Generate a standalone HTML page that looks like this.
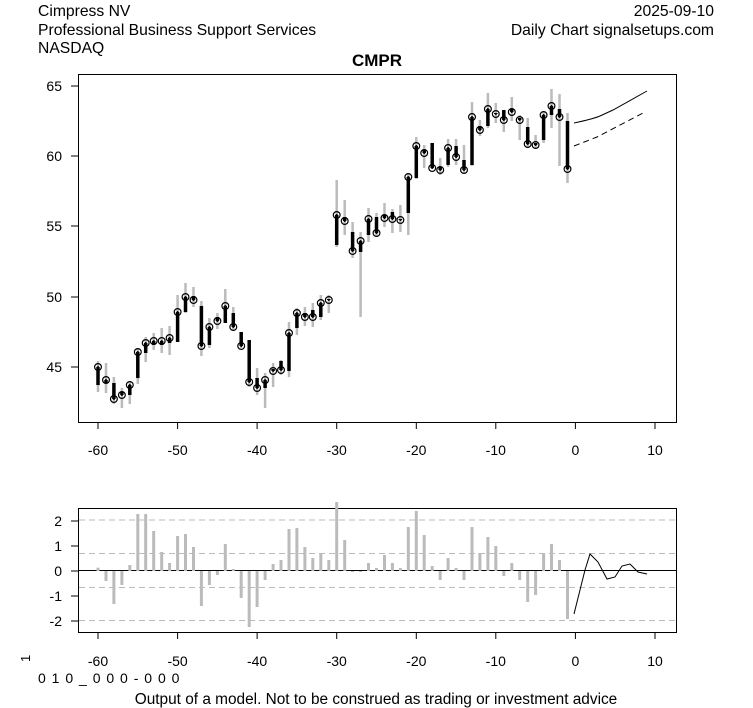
<!DOCTYPE html>
<html><head><meta charset="utf-8"><style>
body{margin:0;background:#fff;}
svg{display:block;font-family:"Liberation Sans",Arial,sans-serif;}
</style></head><body>
<svg id="s" width="753" height="708" xmlns="http://www.w3.org/2000/svg">
<rect width="753" height="708" fill="#fff"/>
<text x="38" y="16" font-size="15.7">Cimpress NV</text>
<text x="38" y="35" font-size="15.7">Professional Business Support Services</text>
<text x="38" y="53" font-size="15.7">NASDAQ</text>
<text x="714" y="16" font-size="15.7" text-anchor="end">2025-09-10</text>
<text x="714" y="35" font-size="15.7" text-anchor="end">Daily Chart signalsetups.com</text>
<text x="377" y="66" font-size="17" font-weight="bold" text-anchor="middle">CMPR</text>
<rect x="78.5" y="74.5" width="598" height="348" fill="none" stroke="#000"/>
<rect x="78.5" y="508.5" width="598" height="124" fill="none" stroke="#000"/>
<g id="g"></g>
<text x="30" y="662" font-size="13" transform="rotate(-90 30 662)">1</text>
<text x="38" y="683" font-size="14" letter-spacing="1">0 1 0 _ 0 0 0 - 0 0 0</text>
<text x="376" y="704" font-size="15.4" text-anchor="middle">Output of a model. Not to be construed as trading or investment advice</text>
</svg>
<script>
var g=document.getElementById('g'),h='';
function X(d){return 98+(d+60)*7.957;}
for(var d=-60;d<=10;d+=10){var x=X(d).toFixed(1);
h+='<line x1="'+x+'" y1="422" x2="'+x+'" y2="429" stroke="#000"/><text x="'+x+'" y="455" font-size="14" text-anchor="middle">'+d+'</text>';
h+='<line x1="'+x+'" y1="632" x2="'+x+'" y2="639" stroke="#000"/><text x="'+x+'" y="666" font-size="14" text-anchor="middle">'+d+'</text>';}
[[65,86],[60,156],[55,226],[50,297],[45,367]].forEach(function(t){h+='<line x1="71" y1="'+t[1]+'" x2="78" y2="'+t[1]+'" stroke="#000"/><text x="62" y="'+(t[1]+5)+'" font-size="14" text-anchor="end">'+t[0]+'</text>';});
[[2,521],[1,546],[0,571],[-1,596],[-2,621]].forEach(function(t){h+='<line x1="71" y1="'+t[1]+'" x2="78" y2="'+t[1]+'" stroke="#000"/><text x="62" y="'+(t[1]+5)+'" font-size="14" text-anchor="end">'+t[0]+'</text>';});
[520,553.5,587.5,620.5].forEach(function(y){h+='<line x1="79" y1="'+y+'" x2="676" y2="'+y+'" stroke="#bbb" stroke-dasharray="6,4"/>';});
h+='<line x1="79" y1="570.5" x2="676" y2="570.5" stroke="#000"/>';
var D=[[361,385,367,392],[363,383,380,393],[377,383,399,404],[388,392,395,408],[382,395,385,404],[348,378,352,384],[337,353,343,362],[333,345,341,350],[328,345,341,353],[326,343,338,355],[295,342,312,313],[283,312,297,313],[287,296,300,307],[301,306,346,356],[318,345,327,348],[313,317,321,329],[289,323,306,310],[307,313,327,330],[332,332,346,348],[340,340,382,387],[368,378,388,395],[373,388,380,408],[363,369,371,387],[360,361,370,375],[322,371,333,377],[308,328,313,335],[307,313,317,326],[303,310,317,327],[295,317,303,320],[295,299,300,313],[180,245,215,247],[200,217,221,235],[222,232,251,258],[232,252,241,317],[208,235,219,242],[213,217,233,237],[203,215,218,227],[209,212,219,233],[205,219,220,232],[173,213,177,235],[137,178,146,179],[145,150,153,168],[143,143,168,169],[158,167,170,175],[139,165,148,167],[139,146,157,165],[145,160,170,173],[102,165,117,166],[120,126,130,136],[93,126,109,128],[103,113,114,123],[110,110,120,132],[97,109,112,121],[115,118,120,140],[118,127,144,148],[135,143,145,148],[112,140,115,143],[89,115,106,128],[94,109,117,166],[113,121,169,183]];
D.forEach(function(r,i){var x=X(i-60).toFixed(1);
h+='<line x1="'+x+'" y1="'+r[0]+'" x2="'+x+'" y2="'+r[3]+'" stroke="#bbb" stroke-width="2.5"/>';
h+='<line x1="'+x+'" y1="'+r[1]+'" x2="'+x+'" y2="'+r[2]+'" stroke="#000" stroke-width="3.5"/>';
h+='<circle cx="'+x+'" cy="'+r[2]+'" r="3.4" fill="none" stroke="#000" stroke-width="1.2"/><circle cx="'+x+'" cy="'+r[2]+'" r="1" fill="#000"/>';});
h+='<path d="M574 123 Q593 119 600 116 L613 110 L647 91" fill="none" stroke="#000"/>';
h+='<path d="M574 146 L597 137 L643 113" fill="none" stroke="#000" stroke-dasharray="6,4"/>';
var B=[567.7,581,604,585,565,514,514,531,552,563,536,534,547,606,585,575,544,569,598,627,607,580,564,560,529,528,547,558,553,560,502,540,572,572,563,568,555,563,568,527,511,535,566,580,558,568,580,527,553,537,546,576,563,580,602,595,553,544,560,619];
B.forEach(function(v,i){var x=X(i-60);var y0=Math.min(v,571),y1=Math.max(v,571);
h+='<rect x="'+(x-1.5).toFixed(1)+'" y="'+y0+'" width="3" height="'+(y1-y0)+'" fill="#bbb"/>';});
h+='<polyline points="574,614 585,570 590,554 598,562 607,579 615,577 622,566 630,564 638,572 647,574" fill="none" stroke="#000"/>';
g.innerHTML=h;
</script>
</body></html>
